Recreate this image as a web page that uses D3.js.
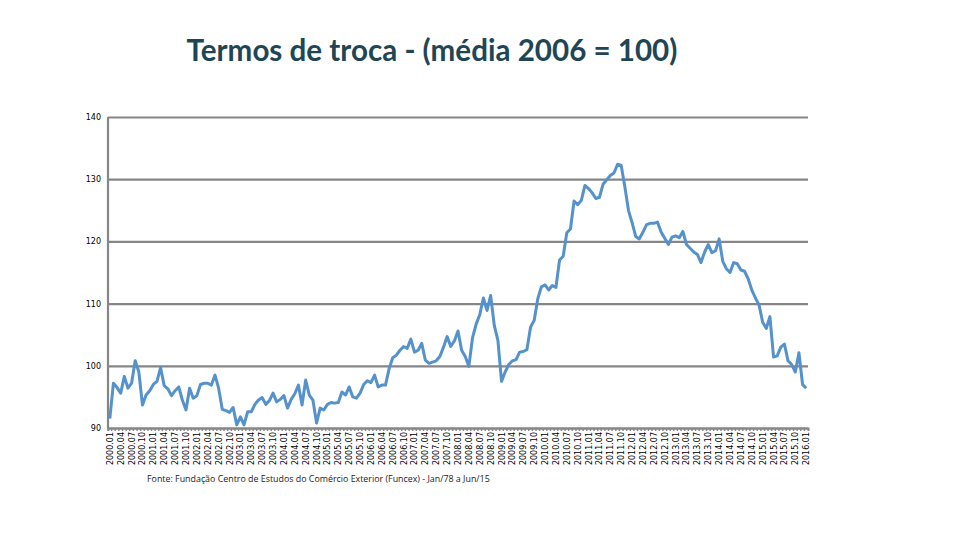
<!DOCTYPE html>
<html>
<head>
<meta charset="utf-8">
<script src="https://cdn.jsdelivr.net/npm/d3@7"></script>
<style>
  body { margin: 0; background: #fff; }
  svg { display: block; }
  .gtick text { font-family: "DejaVu Sans", sans-serif; font-size: 8px; fill: #000; }
</style>
</head>
<body>
<div id="chart"></div>
<script>
'use strict';

const title = "Termos de troca - (média 2006 = 100)";
const source = "Fonte: Fundação Centro de Estudos do Comércio Exterior (Funcex) - Jan/78 a Jun/15";

const years = d3.range(2000, 2017);
const monthCodes = ["01","02","03","04","05","06","07","08","09","10","11","12"];
const yTicks = [90, 100, 110, 120, 130, 140];

// monthly index, 2000.01 .. 2016.01
const values = [
  91.5, 97.2, 96.5, 95.6, 98.3, 96.4, 97.2, 100.8, 99.0, 93.7, 95.3, 96.0,
  97.0, 97.5, 99.7, 96.8, 96.3, 95.2, 96.0, 96.6, 94.5, 92.9, 96.4, 94.8,
  95.2, 97.0, 97.2, 97.2, 96.9, 98.5, 96.4, 93.0, 92.8, 92.5, 93.3, 90.5,
  91.8, 90.5, 92.6, 92.6, 93.8, 94.5, 94.9, 93.8, 94.4, 95.6, 94.2, 94.6,
  95.2, 93.2, 94.6, 95.5, 96.9, 93.7, 97.7, 95.3, 94.5, 90.8, 93.2, 92.9,
  93.8, 94.1, 94.0, 94.1, 95.8, 95.3, 96.6, 95.0, 94.8, 95.6, 97.0, 97.6,
  97.3, 98.5, 96.6, 96.9, 96.9, 99.5, 101.3, 101.7, 102.5, 103.1, 102.8, 104.3,
  102.2, 102.5, 103.6, 100.9, 100.4, 100.6, 100.8, 101.5, 103.0, 104.7, 103.1, 104.0,
  105.6, 102.5, 101.5, 99.9, 104.5, 106.7, 108.2, 110.9, 108.9, 111.3, 106.5, 104.1,
  97.5, 99.0, 100.2, 100.8, 101.0, 102.2, 102.3, 102.6, 106.2, 107.3, 110.8, 112.7,
  113.0, 112.2, 112.9, 112.6, 117.0, 117.6, 121.4, 122.0, 126.5, 125.9, 126.6, 129.0,
  128.5, 127.8, 126.9, 127.1, 129.2, 129.9, 130.6, 131.0, 132.4, 132.2, 128.8, 125.0,
  123.0, 120.8, 120.4, 121.5, 122.7, 122.9, 122.9, 123.1, 121.5, 120.5, 119.5, 120.7,
  120.9, 120.6, 121.6, 119.5, 118.9, 118.3, 117.9, 116.6, 118.3, 119.5, 118.2, 118.5,
  120.4, 116.8, 115.6, 115.0, 116.6, 116.4, 115.4, 115.2, 114.0, 112.2, 110.9, 109.8,
  107.0, 106.0, 107.9, 101.4, 101.6, 103.0, 103.5, 100.8, 100.2, 99.0, 102.1, 97.0,
  96.4
];

const months = [];
years.forEach(yr => monthCodes.forEach(m => months.push(yr + "." + m)));
const categories = months.slice(0, values.length);
const tickLabels = categories.filter((d, i) => i % 3 === 0);

const W = 960, H = 540,
      plotLeft = 108, plotRight = 808, plotTop = 117, plotBottom = 428,
      gridColor = "#868686",
      lineColor = "#5592cc";

const svg = d3.select("#chart").append("svg")
  .attr("width", W)
  .attr("height", H);

const x = d3.scaleBand(categories, [plotLeft, plotRight]);
const y = d3.scaleLinear([90, 140], [plotBottom, plotTop]);

// title
const t = svg.append("text")
  .attr("x", 432)
  .attr("y", 61)
  .attr("text-anchor", "middle")
  .attr("font-family", "Lato, 'Open Sans', sans-serif")
  .attr("font-weight", "bold")
  .attr("font-size", 27)
  .attr("fill", "#1f4655")
  .text(title);
const tw = t.node().getComputedTextLength();
t.attr("font-size", 27 * 491 / tw);

// gridlines + y labels
const gy = svg.append("g")
  .attr("class", "gtick")
  .attr("transform", `translate(${plotLeft},0)`)
  .call(d3.axisLeft(y).tickValues(yTicks).tickSize(-(plotRight - plotLeft)).tickPadding(8));
gy.select(".domain").remove();
gy.selectAll("line").attr("stroke", gridColor).attr("stroke-width", 2.2);
gy.selectAll("text").attr("x", -7).attr("dy", "0.32em");

// left axis line
svg.append("line")
  .attr("x1", plotLeft).attr("x2", plotLeft)
  .attr("y1", plotTop).attr("y2", plotBottom)
  .attr("stroke", gridColor).attr("stroke-width", 2.2);

// bottom axis, a small tick for each month
const gx = svg.append("g")
  .attr("class", "gtick")
  .attr("transform", `translate(0,${plotBottom})`)
  .call(d3.axisBottom(x).tickSize(3).tickFormat(""));
gx.select(".domain").attr("stroke", gridColor).attr("stroke-width", 2);
gx.selectAll("line").attr("stroke", gridColor).attr("stroke-width", 1.4)
  .attr("transform", "translate(-1.8,0)");

// rotated quarterly labels
svg.append("g")
  .selectAll("text")
  .data(tickLabels)
  .join("text")
  .attr("transform", d => `translate(${x(d) + x.bandwidth() / 2 + 3},${plotBottom + 4}) rotate(-90)`)
  .attr("text-anchor", "end")
  .attr("font-family", "'DejaVu Sans', sans-serif")
  .attr("font-size", 8)
  .attr("fill", "#000")
  .text(d => d);

// series
const line = d3.line()
  .x((d, i) => x(categories[i]) + x.bandwidth() / 2)
  .y(d => y(d));
svg.append("path")
  .datum(values)
  .attr("d", line)
  .attr("fill", "none")
  .attr("stroke", lineColor)
  .attr("stroke-width", 3)
  .attr("stroke-linejoin", "round");

// source note
const s = svg.append("text")
  .attr("x", 147)
  .attr("y", 482)
  .attr("font-family", "'Open Sans', sans-serif")
  .attr("font-size", 8.5)
  .attr("fill", "#222")
  .text(source);
const sw = s.node().getComputedTextLength();
s.attr("font-size", 8.5 * 343 / sw);
</script>
</body>
</html>
